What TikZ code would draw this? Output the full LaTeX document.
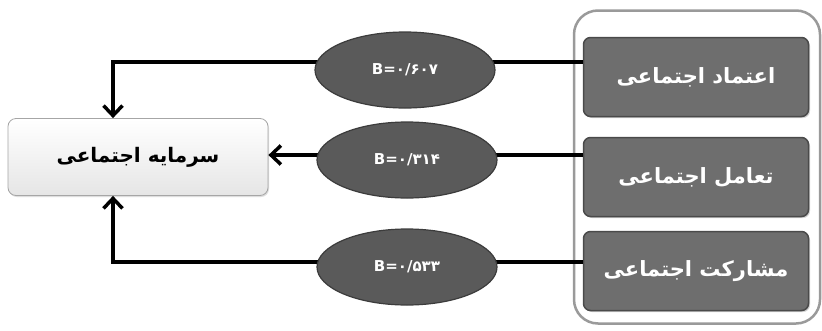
\documentclass[tikz,border=0pt]{standalone}
\usepackage{fontspec}
\usetikzlibrary{arrows.meta,shapes.geometric,shadows}
\TeXXeTstate=1
\newfontfamily\arabicbold[Script=Arabic]{DejaVu Sans Bold}
\definecolor{boxgray}{HTML}{6E6E6E}
\definecolor{boxedge}{HTML}{4A4A4A}
\definecolor{ellgray}{HTML}{5A5A5A}
\definecolor{elledge}{HTML}{3C3C3C}
\definecolor{outeredge}{HTML}{9A9A9A}
\begin{document}
\begin{tikzpicture}[x=1pt,y=-1pt,
  factor/.style={draw=boxedge,line width=1.5pt,fill=boxgray,rounded corners=7pt,
    minimum width=225pt,minimum height=79pt,inner sep=0pt,text=white,
    font=\fontsize{21}{24}\arabicbold,
    drop shadow={shadow xshift=1.5pt,shadow yshift=-1.5pt,fill=black!35}},
  coef/.style={ellipse,draw=elledge,line width=1.2pt,fill=ellgray,inner sep=0pt,
    minimum width=180pt,minimum height=76pt,text=white,
    font=\fontsize{15}{18}\arabicbold},
  target/.style={draw=black!35,line width=0.8pt,top color=white,bottom color=black!10,
    rounded corners=8pt,minimum width=260pt,minimum height=77pt,inner sep=0pt,
    font=\fontsize{20}{24}\arabicbold,
    drop shadow={shadow xshift=1pt,shadow yshift=-1.5pt,fill=black!25}},
  link/.style={line width=3.5pt,draw=black,line join=miter},
  arr/.style={link,-{Straight Barb[length=10pt,width=19pt,line width=3.5pt]}}]
\useasboundingbox (0,0) rectangle (822,330);
\fill[white] (0,0) rectangle (822,330);
% outer group frame
\node[draw=outeredge,line width=2.5pt,rounded corners=24pt,minimum width=246pt,
  minimum height=313pt,inner sep=0pt] (frame) at (697,167) {};
% factor boxes
\node[factor] (f1) at (696,77) {\beginR اعتماد اجتماعی\endR};
\node[factor] (f2) at (696,177) {\beginR تعامل اجتماعی\endR};
\node[factor] (f3) at (696,271) {\beginR مشارکت اجتماعی\endR};
% target
\node[target] (t) at (138,157) {\beginR سرمایه اجتماعی\endR};
% helper coordinates
\coordinate (c1) at (113,62);
\coordinate (c3) at (113,262);
% connectors
\draw[arr] (f1.west |- c1) -- (c1) -- (c1 |- t.north);
\draw[arr] (f2.west |- 0,155) -- (t.east |- 0,155);
\draw[arr] (f3.west |- c3) -- (c3) -- (c3 |- t.south);
% coefficients
\node[coef] (e1) at (405,70) {B=۰/۶۰۷};
\node[coef] (e2) at (407,160) {B=۰/۳۱۴};
\node[coef] (e3) at (407,267) {B=۰/۵۳۳};
\end{tikzpicture}
\end{document}
